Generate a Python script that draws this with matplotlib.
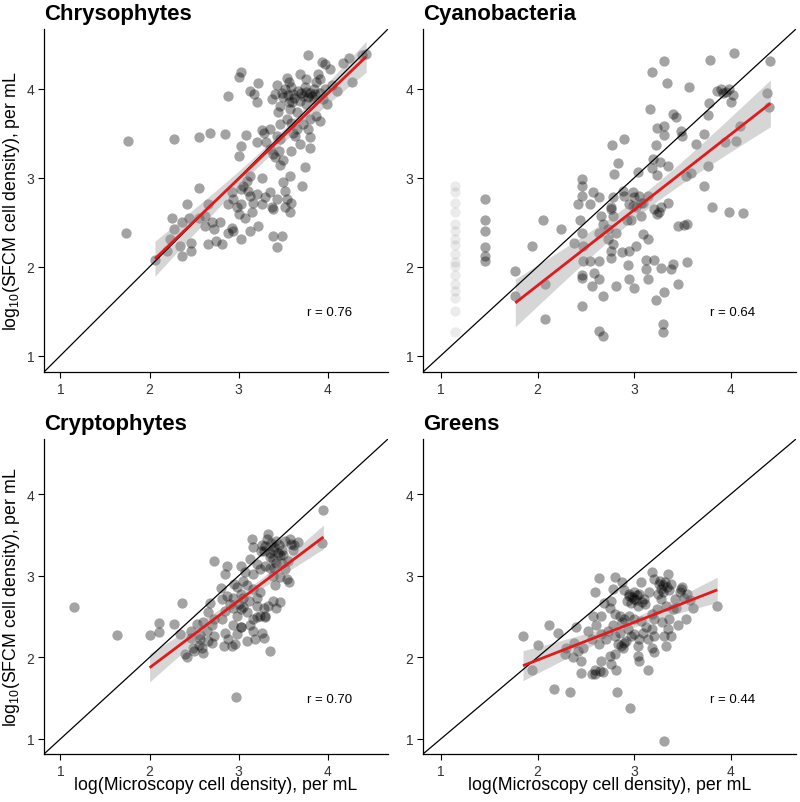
import numpy as np
import matplotlib
matplotlib.use('Agg')
import matplotlib.pyplot as plt

plt.rcParams['font.family'] = ['Liberation Sans', 'DejaVu Sans']
plt.rcParams['mathtext.fontset'] = 'custom'
plt.rcParams['mathtext.rm'] = 'Liberation Sans'

# ---------------- data ----------------
chry_pts = [
(3.78,4.38),(3.93,4.30),(3.97,4.28),(4.02,4.23),(4.17,4.29),(4.24,4.35),(4.38,4.38),(4.43,4.39),(4.27,4.08),(4.10,3.98),
(3.02,4.19),(3.00,4.13),(3.22,4.07),(2.88,3.92),(3.13,3.98),(3.17,3.94),(3.21,3.85),(3.43,4.04),(3.41,3.94),(3.37,3.89),
(3.54,4.12),(3.56,4.08),(3.52,4.00),(3.59,4.02),(3.61,3.94),(3.50,3.91),(3.56,3.85),(3.46,3.81),
(3.69,4.17),(3.76,4.11),(3.89,4.17),(3.91,4.11),(3.87,4.08),
(3.74,4.02),(3.80,3.96),(3.72,3.92),(3.78,3.91),(3.86,3.94),(3.91,3.96),(3.97,4.00),(3.84,3.89),(3.69,3.87),(3.76,3.83),(3.99,3.83),(3.95,3.89),
(3.44,3.74),(3.58,3.77),(3.65,3.74),(3.54,3.66),(3.59,3.62),(3.46,3.61),(3.65,3.55),(3.72,3.61),(3.80,3.66),(3.87,3.70),(3.91,3.64),
(2.27,3.44),(2.55,3.46),(2.68,3.50),(2.85,3.49),
(3.08,3.48),(3.26,3.54),(3.28,3.50),(3.35,3.55),(3.43,3.47),(3.46,3.44),(3.61,3.51),(3.63,3.47),(3.78,3.55),(3.80,3.46),
(3.03,3.36),(3.00,3.25),(3.20,3.40),(3.31,3.40),(3.39,3.27),(3.41,3.23),(3.59,3.30),(3.69,3.38),(3.80,3.34),
(3.46,3.14),(3.74,3.12),(3.58,3.02),(3.71,2.91),(3.50,2.95),(3.52,2.85),(3.54,2.76),(3.43,2.76),(3.26,3.00),(3.20,2.82),
(3.05,2.91),(3.09,2.97),(3.13,2.80),(3.02,2.87),(2.92,2.84),(2.94,2.76),(2.88,2.70),(3.02,2.70),(3.16,2.72),(3.26,2.70),
(3.35,2.84),(3.37,2.67),(3.59,2.72),(2.55,2.89),(2.42,2.70),(2.66,2.70),(3.13,3.02),
(3.52,2.67),(3.58,2.61),(3.39,2.65),(3.15,2.61),(2.98,2.67),(3.00,2.59),(3.07,2.55),
(2.25,2.55),(2.27,2.42),(2.36,2.50),(2.44,2.55),(2.55,2.55),(2.62,2.57),(2.70,2.50),(2.79,2.50),(2.62,2.46),(2.72,2.42),
(2.92,2.44),(2.94,2.40),(3.02,2.31),(3.13,2.40),(3.22,2.46),(3.39,2.35),(3.48,2.35),(3.43,2.22),(2.88,2.38),(2.75,2.29),
(2.81,2.25),(2.66,2.25),(2.46,2.27),(2.34,2.23),(2.36,2.12),(2.47,2.18),(2.23,2.31),(2.19,2.18),(2.06,2.08),
(1.76,3.41),(1.74,2.38),
(3.62,3.90),(3.70,3.95),(3.82,3.92),(3.48,3.96),(3.55,3.93),(3.35,3.33),(3.45,3.30),(3.50,3.20),(3.10,2.85),(3.30,2.78),
(3.66,3.98),(3.75,3.97),(3.85,4.00),(3.60,3.85),(4.05,4.05),
]

cyano_pts = [
(3.31,4.32),(3.79,4.33),(3.18,4.19),(3.34,4.07),(3.57,4.02),(3.86,3.98),(3.16,3.77),(3.40,3.72),(3.43,3.68),(3.77,3.84),(3.76,3.71),
(3.24,3.56),(3.31,3.58),(3.31,3.48),(3.48,3.53),(3.50,3.47),(3.72,3.49),(3.64,3.38),(2.77,3.37),(2.89,3.44),(3.23,3.37),
(3.19,3.21),(3.27,3.18),(3.18,3.11),(3.35,3.13),(3.24,3.03),(2.83,3.17),(2.79,3.04),(3.04,3.07),(3.59,3.06),(3.54,3.02),
(3.76,3.13),(3.72,2.91),(3.81,2.67),
(2.46,2.99),(2.46,2.91),(2.46,2.80),(2.57,2.84),(2.64,2.78),(2.42,2.70),(2.54,2.70),
(2.78,2.78),(2.88,2.85),(2.90,2.80),(2.99,2.84),(3.00,2.78),(3.05,2.80),(2.95,2.70),(3.07,2.72),(3.14,2.80),(2.76,2.67),
(3.02,2.67),(3.35,2.72),(3.28,2.67),
(1.77,1.95),(1.77,1.67),(1.94,2.23),(2.06,2.53),(2.08,1.80),(2.08,1.41),(2.24,2.42),(2.44,2.53),(2.38,2.27),(2.46,2.38),
(2.47,2.23),(2.47,2.06),(2.46,1.91),(2.46,1.87),(2.46,1.56),
(2.54,2.06),(2.64,2.06),(2.58,1.93),(2.64,1.86),(2.56,1.78),(2.68,1.67),(2.64,1.28),(2.68,1.22),
(2.66,2.57),(2.68,2.48),(2.64,2.38),(2.73,2.42),(2.76,2.65),(2.78,2.57),(2.81,2.38),(2.73,2.31),(2.78,2.25),(2.76,2.18),
(2.76,2.10),(2.87,2.16),(2.95,2.18),(3.02,2.23),(3.09,2.37),(3.14,2.31),(2.93,2.52),(2.97,2.53),(3.07,2.57),(2.99,2.68),
(3.09,2.72),(3.21,2.65),(3.26,2.61),(3.24,2.59),
(2.94,2.02),(2.95,1.86),(3.00,1.76),(3.12,2.08),(3.21,2.08),(3.12,1.97),(3.28,1.99),(3.14,1.86),(3.38,1.97),(3.40,2.03),
(3.55,2.05),(3.45,1.80),(3.31,1.71),(3.23,1.63),(3.30,1.35),(3.30,1.26),(2.81,1.78),
(3.45,2.46),(3.52,2.47),(3.55,2.48),
(4.03,4.40),(4.41,4.32),(3.90,4.00),(3.95,3.97),(4.02,3.93),(4.00,3.85),(4.10,3.58),(4.13,2.60),(3.98,2.62),(4.40,3.80),
(3.94,3.40),(4.05,3.42),(3.92,3.96),(3.98,4.00),(4.38,3.95),
(1.46,2.76),(1.46,2.52),(1.46,2.40),(1.46,2.22),(1.46,2.12),(1.46,2.06),
]
# faint (below detection) points of the cyanobacteria panel
cyano_faint_x = [1.15]*17
cyano_faint_y = [2.91,2.84,2.72,2.61,2.48,2.40,2.31,2.24,2.14,2.05,2.01,1.91,1.80,1.73,1.65,1.50,1.26]

crypto_pts = [
(1.15,2.62),(1.63,2.27),(3.95,3.81),(3.94,3.40),(3.33,3.51),(3.15,3.45),(3.26,3.37),(3.16,3.35),(3.52,3.43),(3.59,3.39),
(3.67,3.41),(3.61,3.31),(3.39,3.31),(3.35,3.23),(3.42,3.16),(3.35,3.10),(3.30,3.12),(3.46,3.25),
(3.13,3.21),(3.20,3.14),(3.24,3.08),(3.02,3.12),(3.07,3.04),(3.16,3.02),(2.87,3.12),(2.85,3.02),(2.72,3.18),(3.52,3.08),
(3.54,2.96),(3.56,2.92),(3.46,2.98),(3.41,2.88),(3.39,3.00),
(3.05,2.94),(3.09,2.88),(3.16,2.84),(3.24,2.80),(3.20,2.73),(2.98,2.86),(3.02,2.78),(3.05,2.73),(3.11,2.69),(2.94,2.73),
(2.87,2.75),(2.90,2.65),(2.81,2.71),(2.85,2.57),(2.94,2.61),(3.02,2.59),(2.98,2.51),(3.09,2.55),(3.16,2.47),(3.24,2.51),
(3.28,2.61),(3.33,2.63),(3.39,2.69),(3.46,2.68),(3.42,2.61),(3.20,2.63),(3.30,2.51),
(2.36,2.66),(2.68,2.67),(2.66,2.55),(2.72,2.47),(2.60,2.43),(2.81,2.47),(2.94,2.39),(3.03,2.37),(3.26,2.30),(3.16,2.32),
(2.85,2.30),(2.98,2.28),
(2.27,2.41),(2.11,2.42),(2.11,2.31),(2.00,2.27),(2.53,2.41),(2.46,2.32),(2.34,2.28),(2.57,2.27),(2.72,2.26),
(2.42,2.00),(2.40,2.04),(2.49,2.12),(2.59,2.12),(2.57,2.22),(2.46,2.24),(2.70,2.18),(2.64,2.32),(2.83,2.14),(2.92,2.14),
(2.96,2.16),(2.88,2.22),(3.09,2.20),(3.18,2.22),(3.28,2.24),(3.35,2.08),
(2.97,1.51),(3.20,2.49),(3.30,2.49),(3.13,2.39),(3.02,2.37),
(3.40,3.35),(3.45,3.38),(3.35,3.28),(3.00,2.65),(3.05,2.62),(2.95,2.90),(3.28,3.30),(3.50,3.25),(3.55,3.18),(2.80,2.85),
(2.70,2.40),(2.65,2.20),
(3.36,3.40),(3.42,3.42),(3.48,3.32),(3.30,3.36),(3.38,3.20),(3.44,3.28),(3.32,3.45),(3.25,3.30),(3.58,3.45),(3.62,3.38),
(3.40,3.10),(3.48,3.15),(2.55,2.15),(2.60,2.05),(2.50,2.08),
]

greens_pts = [
(1.85,2.26),(2.01,2.15),(1.94,1.85),(2.12,2.39),(2.21,2.30),(2.17,1.61),(2.34,1.58),(2.40,2.37),
(2.30,2.12),(2.38,2.18),(2.28,2.04),(2.37,2.00),(2.45,1.96),(2.42,2.08),(2.47,2.12),
(2.45,1.81),(2.56,1.79),(2.59,1.85),(2.68,1.82),(2.66,1.96),(2.76,1.92),(2.81,1.85),(2.75,2.02),(2.80,2.04),(2.88,2.12),
(2.83,2.16),(2.82,1.57),(2.96,1.38),(3.31,0.98),
(2.52,2.32),(2.61,2.39),(2.66,2.28),(2.73,2.32),(2.78,2.39),(2.71,2.22),(2.64,2.16),(2.56,2.22),(2.80,2.26),(2.85,2.30),
(2.87,2.43),(2.94,2.35),(2.97,2.26),(2.92,2.20),(3.00,2.28),(3.05,2.22),(3.04,2.14),(3.09,2.30),(3.14,2.22),(3.21,2.26),
(3.18,2.35),(3.12,2.37),(3.07,2.45),(3.00,2.47),(2.95,2.51),(2.90,2.47),(2.85,2.51),(2.80,2.53),(2.66,2.51),(2.57,2.51),
(2.75,2.61),(2.69,2.67),(2.76,2.69),
(2.59,2.80),(2.64,2.97),(2.80,2.98),(2.78,2.84),(2.87,2.92),(2.90,2.82),(2.95,2.78),(3.00,2.71),(2.93,2.69),(3.05,2.78),
(3.07,2.92),(3.11,2.65),(3.04,2.63),(3.18,3.04),(3.21,2.96),(3.26,2.90),(3.28,2.84),(3.35,3.02),(3.36,2.82),(3.28,2.71),
(3.33,2.63),(3.40,2.59),(3.24,2.59),(3.18,2.53),(3.21,2.47),(3.29,2.43),(3.36,2.47),(3.45,2.39),(3.35,2.35),(3.31,2.26),
(3.38,2.26),(3.18,2.12),(3.21,2.06),(3.04,2.02),(3.05,1.96),(3.14,1.85),(3.33,2.14),(3.48,2.84),(3.52,2.73),(3.43,2.61),
(3.61,2.61),(3.54,2.47),(3.86,2.63),
(2.86,2.14),(2.90,2.17),(2.95,2.75),(3.00,2.80),(3.02,2.70),(3.10,2.72),(3.30,2.88),(3.32,2.92),(2.60,1.80),(2.65,1.83),
(2.98,2.74),(3.03,2.76),(2.97,2.66),(3.08,2.68),(3.30,2.80),(3.34,2.86),(3.27,2.94),(3.38,2.90),(3.25,2.78),(3.15,2.80),
(3.42,2.72),(3.55,2.78),(3.50,2.86),(3.47,2.80),(3.58,2.70),
]

titles = ['Chrysophytes', 'Cyanobacteria', 'Cryptophytes', 'Greens']
r_labels = ['r = 0.76', 'r = 0.64', 'r = 0.70', 'r = 0.44']
fit_min_x = [2.0, 1.6, 1.9, 0.0]   # lower x limit of points used in the fitted line
tick_vals = [1, 2, 3, 4]

# ---------------- figure ----------------
W, H = 800, 803
fig = plt.figure(figsize=(W/100, H/100), dpi=100)

def rect(l, r, t, b):
    return [l/W, 1 - b/H, (r - l)/W, (b - t)/H]

rects = [rect(44, 388, 30, 373), rect(423, 796, 30, 373),
         rect(44, 388, 440, 755), rect(423, 796, 440, 755)]
all_pts = [chry_pts, cyano_pts, crypto_pts, greens_pts]
lim = (0.815, 4.675)

for i, (pts, title, rl, rc) in enumerate(zip(all_pts, titles, r_labels, rects)):
    ax = fig.add_axes(rc)
    x = np.array([p[0] for p in pts]); y = np.array([p[1] for p in pts])
    if i == 1:
        ax.scatter(cyano_faint_x, cyano_faint_y, s=55, c='black', alpha=0.08,
                   linewidths=0, zorder=2)
    ax.scatter(x, y, s=55, c='black', alpha=0.36, linewidths=0, zorder=2)
    # linear fit with 95% CI
    m = x >= fit_min_x[i]
    xf, yf = x[m], y[m]
    n = len(xf)
    b1, b0 = np.polyfit(xf, yf, 1)
    resid = yf - (b0 + b1*xf)
    s = np.sqrt(np.sum(resid**2)/(n - 2))
    sxx = np.sum((xf - xf.mean())**2)
    xs = np.linspace(xf.min(), xf.max(), 100)
    yh = b0 + b1*xs
    se = s*np.sqrt(1/n + (xs - xf.mean())**2/sxx)
    ax.fill_between(xs, yh - 1.97*se, yh + 1.97*se, color='#999999', alpha=0.4,
                    linewidth=0, zorder=3)
    ax.axline((1, 1), slope=1, color='black', lw=0.9, zorder=4)
    ax.plot(xs, yh, color='#e31a1c', lw=2.0, zorder=5, solid_capstyle='butt')
    ax.set_xlim(lim); ax.set_ylim(lim)
    ax.set_xticks(tick_vals); ax.set_yticks(tick_vals)
    for sp in ['top', 'right']:
        ax.spines[sp].set_visible(False)
    for sp in ['left', 'bottom']:
        ax.spines[sp].set_linewidth(0.9)
    ax.tick_params(direction='out', length=4, width=0.8, labelsize=10,
                   labelcolor='#333333', pad=3)
    ax.text(0.83, 0.175, rl, transform=ax.transAxes, ha='center', va='center',
            fontsize=9.5, color='black')
    fig.text(rc[0], rc[1] + rc[3] + 10/H, title, fontsize=16, fontweight='bold',
             ha='left', va='baseline')

ylab = r'log$_{\mathrm{10}}$(SFCM cell density), per mL'
xlab = 'log(Microscopy cell density), per mL'
for rc in [rects[0], rects[2]]:
    fig.text(12/W, rc[1] + rc[3]/2, ylab, rotation=90, ha='center', va='center', fontsize=12.8)
for rc in [rects[2], rects[3]]:
    fig.text(rc[0] + rc[2]/2, 1 - 786/H, xlab, ha='center', va='center', fontsize=12.8)

fig.savefig('out.png', dpi=100)
